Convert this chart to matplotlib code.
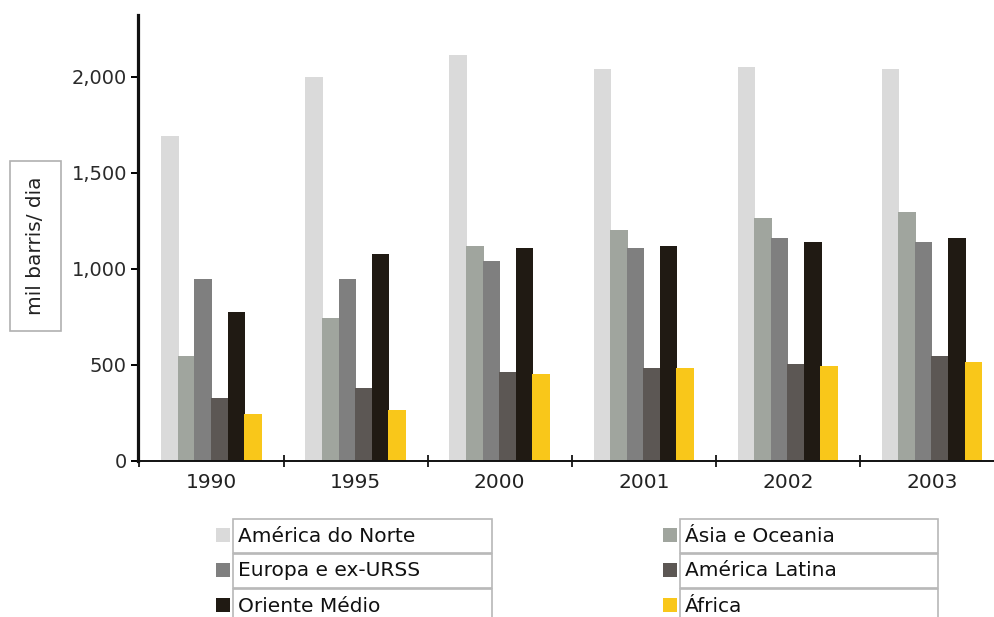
import matplotlib
matplotlib.use("Agg")
import matplotlib.pyplot as plt
from matplotlib.patches import Rectangle
from matplotlib.ticker import FuncFormatter
import numpy as np

plt.rcParams['font.family'] = ['DejaVu Sans']

# consumo de petróleo por região (mil barris/dia)
anos = ['1990', '1995', '2000', '2001', '2002', '2003']
regioes = ['América do Norte', 'Ásia e Oceania', 'Europa e ex-URSS',
           'América Latina', 'Oriente Médio', 'África']
america_norte = [1692, 1995, 2111, 2037, 2049, 2037]
asia_oceania = [545, 745, 1120, 1203, 1265, 1296]
europa_urss = [945, 945, 1038, 1109, 1161, 1140]
america_latina = [326, 378, 463, 484, 506, 548]
oriente_medio = [775, 1076, 1109, 1120, 1140, 1161]
africa = [243, 265, 452, 484, 494, 515]
cores = ['#dadada', '#a0a59e', '#7f7f7f', '#5c5754', '#201a13', '#f9c71a']

series = [america_norte, asia_oceania, europa_urss,
          america_latina, oriente_medio, africa]

W, H = 994, 617
fig = plt.figure(figsize=(W / 100, H / 100), dpi=100)


def fx(px):
    return px / W


def fy(py):
    return 1 - py / H


# eixo principal (a borda direita passa do limite da figura)
ax = fig.add_axes([fx(138), fy(461), fx(1004 - 138), fy(15) - fy(461)])

x = np.arange(len(anos))
passo = 0.115
for i, (vals, cor) in enumerate(zip(series, cores)):
    ax.bar(x + (i - 2.5) * passo, vals, width=0.122, color=cor,
           linewidth=0, zorder=2)

ax.set_xlim(-0.51, 5.5)
ax.set_ylim(0, 2320)

ax.spines['top'].set_visible(False)
ax.spines['right'].set_visible(False)
ax.spines['left'].set_linewidth(2.3)
ax.spines['bottom'].set_linewidth(1.4)
ax.spines['left'].set_color('#111111')
ax.spines['bottom'].set_color('#111111')

ax.set_yticks([0, 500, 1000, 1500, 2000])
ax.yaxis.set_major_formatter(FuncFormatter(lambda v, p: f'{int(v):,}'))
ax.tick_params(axis='y', direction='out', length=5, width=1.4,
               labelsize=14, labelcolor='#2a2a2a', pad=3)

# marcas entre grupos e rótulos dos anos no centro
ax.set_xticks(np.arange(-0.5, 5.5, 1.0))
ax.set_xticklabels([])
ax.tick_params(axis='x', which='major', direction='inout', length=9, width=1.2)
ax.set_xticks(x, minor=True)
ax.set_xticklabels(anos, minor=True)
ax.tick_params(axis='x', which='minor', length=0, labelsize=14.5,
               labelcolor='#222222', pad=9)

# rótulo do eixo y em caixa
fig.text(fx(35.5), fy(246), 'mil barris/ dia', rotation=90, ha='center',
         va='center', fontsize=14.5, color='#222222',
         bbox=dict(boxstyle='square,pad=0.8', facecolor='white',
                   edgecolor='#b0b0b0', linewidth=1.2))

# legenda em duas colunas, cada item com sua caixa
ordem = [(0, 0), (2, 0), (4, 0), (1, 1), (3, 1), (5, 1)]
col_sq = [216, 663]
col_box = [(233, 492), (680, 938)]
linhas_y = [519, 554, 589]
for k, (idx, col) in enumerate(ordem):
    row = k % 3
    top = linhas_y[row]
    bx0, bx1 = col_box[col]
    fig.add_artist(Rectangle((fx(bx0), fy(top + 34)), fx(bx1 - bx0),
                             fy(top) - fy(top + 34), transform=fig.transFigure,
                             facecolor='white', edgecolor='#b8b8b8',
                             linewidth=1.2))
    sq = col_sq[col]
    fig.add_artist(Rectangle((fx(sq), fy(top + 23)), fx(14),
                             fy(top + 9) - fy(top + 23),
                             transform=fig.transFigure,
                             facecolor=cores[idx], edgecolor='none'))
    fig.text(fx(bx0 + 5), fy(top + 17), regioes[idx], ha='left',
             va='center', fontsize=14.5, color='#111111')

fig.savefig('out.png', dpi=100)
